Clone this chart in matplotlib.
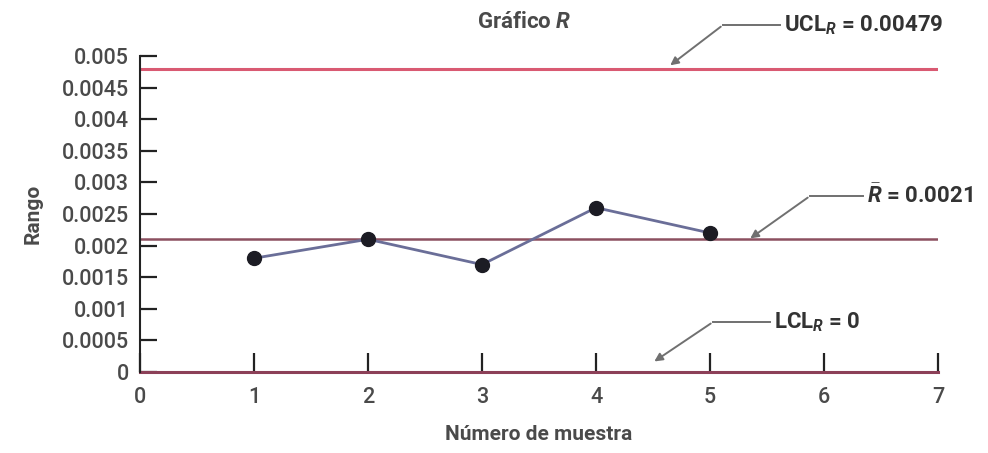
import matplotlib
matplotlib.use("Agg")
import matplotlib.pyplot as plt
from matplotlib import font_manager

# sample ranges
samples = [1, 2, 3, 4, 5]
ranges = [0.0018, 0.0021, 0.0017, 0.0026, 0.0022]

ucl = 0.00479
rbar = 0.0021
lcl = 0.0

yticks = [0, 0.0005, 0.001, 0.0015, 0.002, 0.0025, 0.003, 0.0035, 0.004, 0.0045, 0.005]
ytick_labels = ["0", "0.0005", "0.001", "0.0015", "0.002", "0.0025", "0.003", "0.0035",
                "0.004", "0.0045", "0.005"]
xticks = [0, 1, 2, 3, 4, 5, 6, 7]

names = {f.name for f in font_manager.fontManager.ttflist}
fam = "Liberation Sans Narrow" if "Liberation Sans Narrow" in names else "Roboto"
plt.rcParams['font.family'] = [fam, 'DejaVu Sans']
plt.rcParams['mathtext.fontset'] = 'custom'
plt.rcParams['mathtext.rm'] = fam
plt.rcParams['mathtext.it'] = fam + ':italic:bold'
plt.rcParams['mathtext.bf'] = fam + ':bold'

txt = '#4a4a4a'

fig = plt.figure(figsize=(9.88, 4.53), dpi=100)
ax = fig.add_axes([0.1417, 0.1788, 0.8077, 0.6976])

ax.axhline(ucl, color='#d95a72', lw=2.2, xmax=1.0)
ax.axhline(rbar, color='#8c5060', lw=1.8)
ax.axhline(lcl, color='#8c4058', lw=2.2, clip_on=False)
ax.plot(samples, ranges, color='#6a6e98', lw=2, marker='o', ms=10,
        mfc='#1c1c24', mec='#1c1c24', zorder=5)

ax.set_xlim(0, 7)
ax.set_ylim(0, 0.005)
ax.set_yticks(yticks)
ax.set_yticklabels(ytick_labels)
ax.set_xticks(xticks)

for s in ['top', 'right', 'bottom']:
    ax.spines[s].set_visible(False)
ax.spines['left'].set_color('#222222')
ax.spines['left'].set_linewidth(1.5)
ax.tick_params(axis='y', direction='in', length=12, width=1.6, color='#222222',
               labelsize=15.5, labelcolor=txt, pad=8)
ax.tick_params(axis='x', direction='in', length=14, width=1.6, color='#222222',
               labelsize=15.5, labelcolor=txt, pad=11)
for lab in ax.get_xticklabels() + ax.get_yticklabels():
    lab.set_fontweight('medium')

ax.set_xlabel("Número de muestra", fontsize=15, fontweight='bold', color=txt, labelpad=12)
ax.set_ylabel("Rango", fontsize=15, fontweight='bold', color=txt, labelpad=14)

fig.text(0.531, 0.952, r"Gráfico $\mathit{R}$", fontsize=16, fontweight='bold',
         color=txt, ha='center', va='center')

arrow_kw = dict(arrowstyle='-|>', color='#707070', lw=1.4, mutation_scale=12)

def callout(text, tip, elbow, end):
    # tip/elbow/end in figure pixel coordinates (from top-left)
    W, H = 988, 453
    fig.add_artist(plt.Line2D([elbow[0] / W, end[0] / W], [1 - elbow[1] / H, 1 - end[1] / H],
                              color='#707070', lw=1.4))
    ax.annotate("", xy=(tip[0] / W, 1 - tip[1] / H), xycoords='figure fraction',
                xytext=(elbow[0] / W, 1 - elbow[1] / H), textcoords='figure fraction',
                arrowprops=arrow_kw, annotation_clip=False)
    fig.text(end[0] / W + 0.004, 1 - end[1] / H, text, fontsize=16, fontweight='bold',
             color='#333333', ha='left', va='center')

callout(r"UCL$_{\mathit{R}}$ = 0.00479", (668, 67), (723, 25), (780, 25))
callout(r"$\bar{\mathit{R}}$ = 0.0021", (748, 240), (810, 196), (863, 196))
callout(r"LCL$_{\mathit{R}}$ = 0", (652, 363), (713, 322), (770, 322))

fig.savefig("out.png", dpi=100)
